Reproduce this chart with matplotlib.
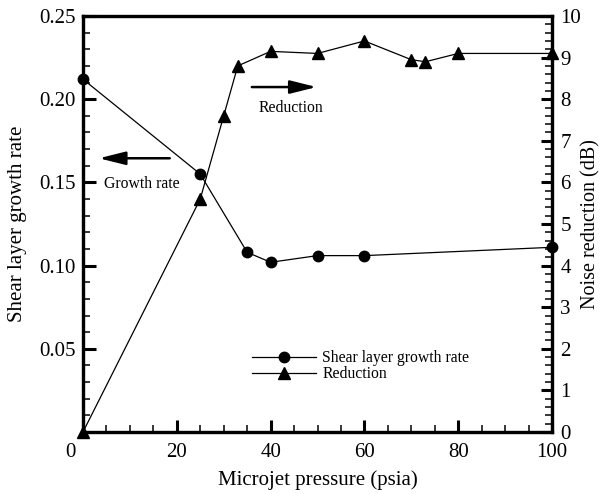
import matplotlib
matplotlib.use("Agg")
import matplotlib.pyplot as plt
from matplotlib.lines import Line2D
from matplotlib.patches import FancyArrowPatch
import matplotlib.transforms as mtransforms

# Shear layer growth rate vs. microjet pressure
growth_pressure = [0, 25, 35, 40, 50, 60, 100]
growth_rate = [0.212, 0.155, 0.108, 0.102, 0.106, 0.106, 0.111]

# Noise reduction vs. microjet pressure
noise_pressure = [0, 25, 30, 33, 40, 50, 60, 70, 73, 80, 100]
noise_reduction = [0.0, 5.6, 7.6, 8.8, 9.15, 9.1, 9.4, 8.95, 8.9, 9.1, 9.1]

x_ticks = [0, 20, 40, 60, 80, 100]
left_ticks = [0.05, 0.10, 0.15, 0.20, 0.25]
left_tick_labels = ["0.05", "0.10", "0.15", "0.20", "0.25"]
right_ticks = list(range(0, 11))

plt.rcParams["font.family"] = ["Liberation Serif", "DejaVu Serif"]
plt.rcParams["mathtext.fontset"] = "stix"

fig = plt.figure(figsize=(6.01, 4.94), dpi=100)
ax = fig.add_axes([83 / 601, 1 - 432 / 494, (552 - 83) / 601, (432 - 16) / 494])
ax2 = ax.twinx()

lw_spine = 2.3
for a in (ax, ax2):
    for s in a.spines.values():
        s.set_linewidth(lw_spine)

ax.plot(growth_pressure, growth_rate, color="black", lw=0.9, marker="o",
        markersize=7.5, clip_on=False, zorder=5)
ax2.plot(noise_pressure, noise_reduction, color="black", lw=0.9, marker="^",
         markersize=8, clip_on=False, zorder=5)

ax.set_xlim(0, 100)
ax.set_ylim(0, 0.25)
ax2.set_ylim(0, 10)

ax.set_xticks(x_ticks)
ax.set_xticks(list(range(0, 101, 5)), minor=True)
ax.set_yticks(left_ticks)
ax.set_yticklabels(left_tick_labels)
ax.set_yticks([i / 100 for i in range(0, 26)], minor=True)
ax2.set_yticks(right_ticks)
ax2.set_yticks([i / 5 for i in range(0, 51)], minor=True)

ax.tick_params(axis="y", which="major", direction="in", length=9, width=2.2,
               labelsize=15, pad=5, right=False)
ax.tick_params(axis="x", which="major", direction="in", length=9, width=2.2,
               labelsize=15, pad=8, top=False)
ax.tick_params(axis="both", which="minor", direction="in", length=5, width=1.1,
               top=False, right=False)
ax2.tick_params(axis="y", which="major", direction="in", length=8, width=2.2,
                labelsize=15, pad=6)
ax2.tick_params(axis="y", which="minor", direction="in", length=5, width=1.1)

# nudge the "0" x-tick label left, clear of the corner
for lab in ax.get_xticklabels():
    if lab.get_text() == "0":
        lab.set_transform(lab.get_transform() +
                          mtransforms.ScaledTranslation(-13 / 100, 0, fig.dpi_scale_trans))

ax.set_xlabel("Microjet pressure (psia)", fontsize=15, labelpad=6)
ax.set_ylabel("Shear layer growth rate", fontsize=15, labelpad=9)
ax2.set_ylabel("Noise reduction (dB)", fontsize=14.5, labelpad=0)

# direction arrows pointing to each series' axis
arrow_kw = dict(arrowstyle="-|>,head_length=16,head_width=4", mutation_scale=1,
                color="black", lw=1.8, shrinkA=0, shrinkB=0, zorder=6)
ax.add_patch(FancyArrowPatch((18.5, 0.1645), (3.4, 0.1645), **arrow_kw))
ax.add_patch(FancyArrowPatch((36.0, 0.2073), (49.8, 0.2073), **arrow_kw))
ax.text(4.5, 0.149, "Growth rate", fontsize=11.3, va="center", ha="left")
ax.text(37.5, 0.195, "Reduction", fontsize=11.3, va="center", ha="left")

handles = [
    Line2D([], [], color="black", lw=0.9, marker="o", markersize=7.5),
    Line2D([], [], color="black", lw=0.9, marker="^", markersize=8),
]
fig.legend(handles, ["Shear layer growth rate", "Reduction"], loc="upper left",
           bbox_to_anchor=(251.7 / 601, 1 - 350 / 494), frameon=False,
           fontsize=11.3, handlelength=4.1, handletextpad=0.4, labelspacing=0.0,
           borderpad=0, borderaxespad=0)

fig.savefig("out.png", dpi=100)
